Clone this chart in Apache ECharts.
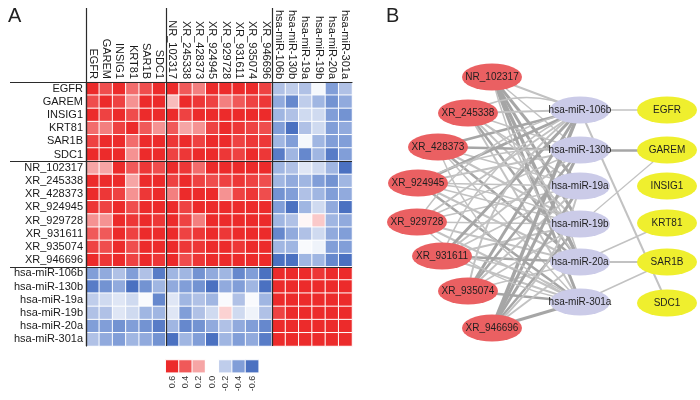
<!DOCTYPE html>
<html><head><meta charset="utf-8">
<script src="https://cdn.jsdelivr.net/npm/echarts@6/dist/echarts.min.js"></script>
<style>html,body{margin:0;padding:0;background:#fff}#c{width:700px;height:400px}</style>
</head><body><div id="c"></div>
<script>
// ---------- DATA ----------
const mrnaNames = ['EGFR','GAREM','INSIG1','KRT81','SAR1B','SDC1'];
const lncNames = ['NR_102317','XR_245338','XR_428373','XR_924945','XR_929728','XR_931611','XR_935074','XR_946696'];
const mirNames = ['hsa-miR-106b','hsa-miR-130b','hsa-miR-19a','hsa-miR-19b','hsa-miR-20a','hsa-miR-301a'];
const heatNames = mrnaNames.concat(lncNames, mirNames);

// correlation rows (columns in heatNames order)
const mrnaRows = [
 [0.65,0.45,0.65,0.35,0.45,0.65, 0.65,0.4,0.3,0.65,0.65,0.65,0.6,0.5, -0.25,-0.2,-0.25,-0.03,-0.4,-0.25],
 [0.45,0.65,0.5,0.25,0.6,0.6, 0.15,0.65,0.55,0.5,0.3,0.4,0.5,0.55, -0.35,-0.5,-0.2,-0.3,-0.45,-0.35],
 [0.65,0.5,0.65,0.45,0.65,0.65, 0.6,0.5,0.6,0.65,0.65,0.65,0.65,0.6, -0.3,-0.25,-0.15,-0.15,-0.4,-0.45],
 [0.35,0.3,0.5,0.65,0.4,0.25, 0.4,0.2,0.25,0.5,0.6,0.55,0.5,0.45, -0.4,-0.6,-0.25,-0.15,-0.4,-0.35],
 [0.5,0.6,0.65,0.35,0.65,0.65, 0.55,0.6,0.5,0.6,0.6,0.5,0.55,0.55, -0.3,-0.4,-0.03,-0.3,-0.4,-0.4],
 [0.65,0.65,0.6,0.25,0.6,0.65, 0.5,0.55,0.6,0.6,0.55,0.5,0.6,0.55, -0.55,-0.3,-0.5,-0.3,-0.55,-0.4]
];
const lncRows = [
 [0.2,0.2,0.65,0.4,0.55,0.45, 0.65,0.55,0.35,0.65,0.65,0.65,0.6,0.65, -0.3,-0.25,-0.1,-0.15,-0.3,-0.6],
 [0.65,0.65,0.6,0.2,0.65,0.65, 0.5,0.65,0.5,0.45,0.5,0.55,0.5,0.45, -0.3,-0.35,-0.3,-0.4,-0.45,-0.3],
 [0.6,0.55,0.5,0.25,0.55,0.6, 0.3,0.6,0.65,0.6,0.25,0.5,0.55,0.45, -0.45,-0.4,-0.25,-0.3,-0.4,-0.35],
 [0.55,0.5,0.65,0.45,0.65,0.6, 0.65,0.5,0.65,0.65,0.65,0.65,0.6,0.6, -0.4,-0.6,-0.3,-0.15,-0.35,-0.6],
 [0.25,0.25,0.65,0.55,0.6,0.55, 0.65,0.5,0.3,0.65,0.65,0.6,0.65,0.6, -0.3,-0.25,0.02,0.12,-0.3,-0.35],
 [0.4,0.4,0.6,0.5,0.6,0.6, 0.6,0.5,0.55,0.6,0.55,0.65,0.6,0.6, -0.5,-0.35,-0.25,-0.15,-0.35,-0.4],
 [0.5,0.45,0.65,0.45,0.6,0.6, 0.6,0.55,0.55,0.65,0.6,0.55,0.65,0.6, -0.3,-0.3,-0.02,-0.05,-0.4,-0.4],
 [0.65,0.55,0.65,0.5,0.6,0.55, 0.65,0.45,0.55,0.65,0.65,0.65,0.65,0.65, -0.65,-0.6,-0.3,-0.3,-0.5,-0.6]
];
const mirRows = [
 [-0.4,-0.35,-0.25,-0.4,-0.25,-0.55, -0.3,-0.3,-0.45,-0.35,-0.3,-0.5,-0.4,-0.65, 0.65,0.65,0.65,0.55,0.65,0.65],
 [-0.55,-0.45,-0.35,-0.65,-0.45,-0.3, -0.35,-0.4,-0.45,-0.6,-0.35,-0.4,-0.3,-0.65, 0.65,0.65,0.6,0.65,0.65,0.65],
 [-0.2,-0.15,-0.1,-0.15,-0.02,-0.5, -0.1,-0.3,-0.25,-0.3,-0.02,-0.25,-0.02,-0.3, 0.6,0.6,0.65,0.65,0.65,0.6],
 [-0.25,-0.25,-0.1,-0.15,-0.3,-0.3, -0.1,-0.4,-0.25,-0.15,0.1,-0.15,-0.05,-0.25, 0.5,0.65,0.65,0.65,0.65,0.65],
 [-0.4,-0.4,-0.45,-0.4,-0.45,-0.55, -0.3,-0.5,-0.45,-0.35,-0.25,-0.35,-0.4,-0.5, 0.65,0.65,0.65,0.65,0.65,0.65],
 [-0.25,-0.35,-0.4,-0.3,-0.35,-0.45, -0.6,-0.3,-0.4,-0.6,-0.3,-0.4,-0.35,-0.55, 0.65,0.65,0.6,0.65,0.65,0.65]
];
const legendLabels = ['0.6','0.4','0.2','0.0','-0.2','-0.4','-0.6'];
const legendValues = [0.6,0.4,0.2,0,-0.2,-0.4,-0.6];
const groupBounds = [0, 6, 14];

// network layout (node positions of the drawn network)
const lncX = [492,468,438,418,417,442,468,492];
const lncY = [77,113,147,183,222,256,291,328];
const mirX = [580,580,580,580,580,580];
const mirY = [110,150,186,224,262,302];
const mrnaX = [667,667,667,667,667,667];
const mrnaY = [110,150,186,223,262,303];
// lncRNA-miRNA edge weights (rows lnc, cols mir)
const lncMirWeights = [
 [2,1.5,3,3,3.5,3],
 [2,1.5,1.5,2,2.5,2],
 [2.5,2.5,1.5,2,2.5,1.5],
 [3,2,1.5,1.5,2,2.5],
 [2,1.5,1.5,1.5,2,2],
 [3,2,1.5,2,2.5,2],
 [3,2.5,2,1.5,1.5,2.5],
 [3.5,3,3,2.5,2,3]
];
// extra parallel lncRNA-miRNA edges: [lnc, mir, weight, bend]
const extraEdges = [[1,0,1.5,0.25],[4,0,1.5,0.2],[5,0,1.5,0.2],[3,1,1.5,0.15],[6,0,2,0.2],[2,5,1.5,-0.2],
 [5,5,1.5,0.15],[4,5,1.5,-0.15],[1,4,1.5,0.2],[7,2,2,-0.15],[3,3,1.5,0.1],[0,4,1.5,-0.1]];
// miRNA-mRNA edges: [mir, mrna, weight]
const mirMrnaEdges = [[0,0,1.5],[1,1,2.5],[0,5,2],[3,1,1.2],[4,4,2],[5,4,1.5],[4,3,1.5]];

// ---------- BUILD ----------
const allRows = mrnaRows.concat(lncRows, mirRows);
const heatData = [];
allRows.forEach((row, r) => row.forEach((v, c) => heatData.push([c, r, v])));
const legendData = legendValues.map((v, i) => [i, 0, v]);

const FONT = 'Liberation Sans, Arial, sans-serif';
const ELLIPSE = 'path://M0,50 A50,50 0 1,1 100,50 A50,50 0 1,1 0,50 Z';
const nodes = [];
lncNames.forEach((n, i) => nodes.push({name: n, value: [lncX[i], lncY[i]], itemStyle: {color: '#ea6062'}}));
mirNames.forEach((n, i) => nodes.push({name: n, value: [mirX[i], mirY[i]], itemStyle: {color: '#cbcbe8'}}));
mrnaNames.forEach((n, i) => nodes.push({name: n, value: [mrnaX[i], mrnaY[i]], itemStyle: {color: '#efef2e'}}));
const edgeStyle = (w, c) => ({width: w, color: w >= 2.5 ? '#a6a6a6' : '#c2c2c2', curveness: c || 0, opacity: 1});
const links = [];
lncMirWeights.forEach((row, i) => row.forEach((w, j) => links.push({source: lncNames[i], target: mirNames[j], lineStyle: edgeStyle(w, 0)})));
extraEdges.forEach(e => links.push({source: lncNames[e[0]], target: mirNames[e[1]], lineStyle: edgeStyle(e[2], e[3])}));
mirMrnaEdges.forEach(e => links.push({source: mirNames[e[0]], target: mrnaNames[e[1]], lineStyle: edgeStyle(e[2], 0)}));

const heatGrid = {left: 86, top: 82, width: 266, height: 264};
const sepLine = {color: '#2b2b2b', width: 1.2};

const option = {
  animation: false,
  textStyle: {fontFamily: FONT},
  title: [
    {text: 'A', left: 3, top: 1, textStyle: {fontSize: 20, fontWeight: 'normal', color: '#222', fontFamily: FONT}},
    {text: 'B', left: 381, top: 1, textStyle: {fontSize: 20, fontWeight: 'normal', color: '#222', fontFamily: FONT}}
  ],
  grid: [
    Object.assign({}, heatGrid),
    Object.assign({}, heatGrid),
    {left: 165.7, top: 360, width: 93, height: 12.7},
    {left: 370, top: 0, width: 330, height: 400}
  ],
  xAxis: [
    {type: 'category', gridIndex: 0, data: heatNames, position: 'top',
     axisLine: {show: false}, axisTick: {show: false}, splitLine: {show: false},
     axisLabel: {interval: 0, rotate: 90, margin: 3, fontSize: 11, color: '#1a1a1a', fontFamily: FONT}},
    {type: 'value', gridIndex: 1, min: 0, max: 20, position: 'top', z: 10,
     axisLine: {show: true, lineStyle: sepLine},
     axisTick: {show: true, length: 74, customValues: groupBounds, lineStyle: sepLine},
     axisLabel: {show: false},
     splitLine: {show: true, lineStyle: sepLine}},
    {type: 'category', gridIndex: 2, data: legendLabels, position: 'bottom',
     axisLine: {show: false}, axisTick: {show: false},
     axisLabel: {interval: 0, rotate: 90, margin: 3, fontSize: 9, color: '#333', fontFamily: FONT}},
    {type: 'value', gridIndex: 3, min: 370, max: 700, show: false}
  ],
  yAxis: [
    {type: 'category', gridIndex: 0, data: heatNames, inverse: true,
     axisLine: {show: false}, axisTick: {show: false}, splitLine: {show: false},
     axisLabel: {interval: 0, margin: 3, fontSize: 11, color: '#1a1a1a', fontFamily: FONT}},
    {type: 'value', gridIndex: 1, min: 0, max: 20, inverse: true, position: 'left', z: 10,
     axisLine: {show: true, lineStyle: sepLine},
     axisTick: {show: true, length: 76, customValues: groupBounds, lineStyle: sepLine},
     axisLabel: {show: false},
     splitLine: {show: true, lineStyle: sepLine}},
    {type: 'category', gridIndex: 2, data: [''], show: false},
    {type: 'value', gridIndex: 3, min: 0, max: 400, inverse: true, show: false}
  ],
  visualMap: {
    show: false, type: 'continuous', min: -0.6, max: 0.6, seriesIndex: [0, 1], dimension: 2,
    inRange: {color: ['#4b71c1', '#819ed8', '#bfcdeb', '#ffffff', '#f6a5a5', '#f05959', '#ec2b2b']}
  },
  series: [
    {type: 'heatmap', xAxisIndex: 0, yAxisIndex: 0, data: heatData,
     itemStyle: {borderColor: '#ffffff', borderWidth: 1}, emphasis: {disabled: true}},
    {type: 'heatmap', xAxisIndex: 2, yAxisIndex: 2, data: legendData,
     itemStyle: {borderColor: '#ffffff', borderWidth: 1}, emphasis: {disabled: true}},
    {type: 'graph', coordinateSystem: 'cartesian2d', xAxisIndex: 3, yAxisIndex: 3,
     symbol: ELLIPSE, symbolSize: [60, 27], data: nodes, links: links,
     label: {show: true, position: 'inside', fontSize: 10, color: '#1f1f1f', fontFamily: FONT},
     emphasis: {disabled: true}, z: 3}
  ]
};
const chart = echarts.init(document.getElementById('c'), null, {renderer: 'canvas'});
chart.setOption(option);
</script></body></html>
